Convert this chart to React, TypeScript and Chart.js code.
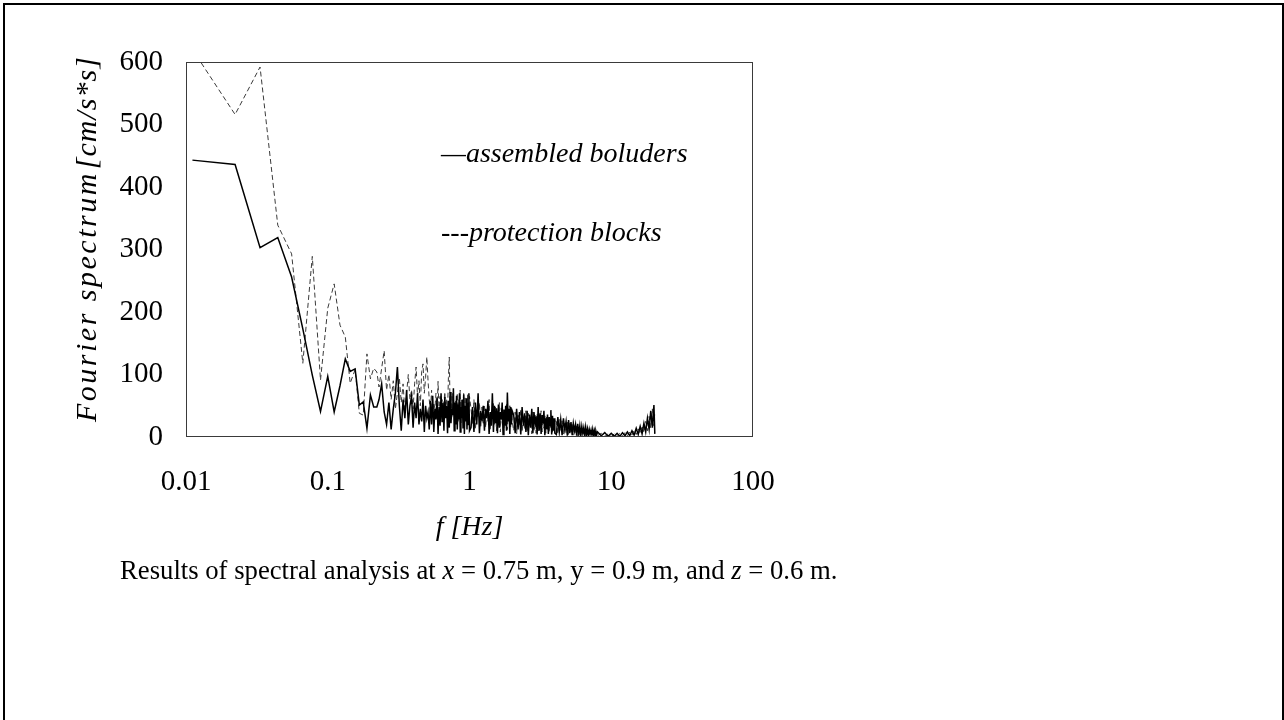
import React, { useEffect, useRef } from "react";
import { Chart, registerables } from "chart.js";

Chart.register(...registerables);

// Frequency grid (Hz)
const FREQ: number[] = [
  0.0111, 0.0222, 0.0333, 0.0444, 0.0556, 0.0667, 0.0778, 0.0889, 0.1, 0.111,
  0.122, 0.133, 0.144, 0.156, 0.167, 0.178, 0.189, 0.2, 0.211, 0.222,
  0.23, 0.24, 0.25, 0.26, 0.27, 0.28, 0.29, 0.3, 0.31, 0.32, 0.33, 0.34, 0.35, 0.36,
  0.37, 0.38, 0.39, 0.4, 0.41, 0.42, 0.43, 0.44, 0.45, 0.46, 0.47, 0.48, 0.49, 0.5,
  0.51, 0.52, 0.53, 0.54, 0.55, 0.56, 0.57, 0.58, 0.59, 0.6,
  0.61, 0.62, 0.63, 0.64, 0.65, 0.66, 0.67, 0.68, 0.69, 0.7,
  0.71, 0.72, 0.73, 0.74, 0.75, 0.76, 0.77, 0.78, 0.79, 0.8,
  0.81, 0.82, 0.83, 0.84, 0.85, 0.86, 0.87, 0.88, 0.89, 0.9,
  0.91, 0.92, 0.93, 0.94, 0.95, 0.96, 0.97, 0.98, 0.99, 1.0,
  1.025, 1.05, 1.075, 1.1, 1.125, 1.15, 1.175, 1.2, 1.225, 1.25,
  1.275, 1.3, 1.325, 1.35, 1.375, 1.4, 1.425, 1.45, 1.475, 1.5,
  1.525, 1.55, 1.575, 1.6, 1.625, 1.65, 1.675, 1.7, 1.725, 1.75,
  1.775, 1.8, 1.825, 1.85, 1.875, 1.9, 1.925, 1.95, 1.975, 2.0,
  2.05, 2.1, 2.15, 2.2, 2.25, 2.3, 2.35, 2.4, 2.45, 2.5,
  2.55, 2.6, 2.65, 2.7, 2.75, 2.8, 2.85, 2.9, 2.95, 3.0,
  3.05, 3.1, 3.15, 3.2, 3.25, 3.3, 3.35, 3.4, 3.45, 3.5,
  3.55, 3.6, 3.65, 3.7, 3.75, 3.8, 3.85, 3.9, 3.95, 4.0,
  4.1, 4.2, 4.3, 4.4, 4.5, 4.6, 4.7, 4.8, 4.9, 5.0,
  5.1, 5.2, 5.3, 5.4, 5.5, 5.6, 5.7, 5.8, 5.9, 6.0,
  6.1, 6.2, 6.3, 6.4, 6.5, 6.6, 6.7, 6.8, 6.9, 7.0,
  7.1, 7.2, 7.3, 7.4, 7.5, 7.6, 7.7, 7.8, 7.9, 8.0,
  8.5, 9.0, 9.5, 10.0, 10.5, 11.0, 11.5, 12.0, 12.5, 13.0, 13.5, 14.0, 14.5, 15.0,
  15.5, 16.0, 16.5, 17.0, 17.5, 18.0, 18.5, 19.0, 19.5, 20.0, 20.3,
];

// Fourier spectrum, assembled boulders (solid)
const ASSEMBLED: number[] = [
  443, 436, 303, 319, 256, 173, 99, 41, 97, 40, 82, 125, 105, 109, 51, 56, 14, 67, 48, 48,
  60, 85, 40, 20, 55, 12, 45, 70, 112, 50, 10, 60, 30, 75, 20, 50, 65, 15, 55, 30, 70, 20,
  45, 25, 60, 8, 50, 30,
  40, 12, 58, 20, 66, 8, 45, 28, 62, 5,
  48, 18, 70, 25, 55, 10, 64, 30, 50, 6,
  58, 15, 72, 22, 45, 35, 78, 10, 55, 20,
  66, 12, 52, 28, 70, 8, 48, 30, 60, 15,
  68, 5, 50, 25, 62, 12, 55, 20, 70, 10,
  15, 48, 8, 55, 20, 70, 6, 42, 25, 50,
  10, 45, 30, 58, 5, 40, 18, 70, 8, 50,
  22, 46, 6, 52, 15, 40, 28, 55, 4, 44,
  18, 50, 10, 71, 25, 45, 5, 48, 20, 42,
  35, 6, 45, 12, 40, 4, 48, 18, 38, 8,
  42, 3, 36, 15, 45, 6, 40, 20, 33, 4,
  48, 10, 38, 5, 35, 22, 42, 3, 30, 12,
  36, 5, 32, 18, 43, 4, 34, 10, 30, 6,
  4, 32, 8, 28, 3, 30, 12, 25, 2, 27,
  6, 24, 3, 22, 10, 20, 2, 21, 5, 18,
  2, 17, 6, 15, 2, 16, 4, 13, 2, 12,
  5, 11, 2, 12, 3, 10, 2, 9, 4, 8,
  2, 7, 1, 6, 1, 6, 1, 7, 2, 8, 2, 10, 3, 14, 4, 17, 5, 22, 8, 30, 12, 42, 15, 51, 5,
];

// Fourier spectrum, protection blocks (dashed)
const PROTECTION: number[] = [
  620, 516, 592, 339, 293, 118, 289, 91, 206, 245, 179, 160, 86, 108, 38, 35, 133, 93, 110, 104,
  80, 110, 138, 75, 100, 60, 90, 45, 70, 95, 55, 85, 40, 70, 100, 60, 75, 45, 85, 112, 65, 90,
  50, 105, 117, 70, 95, 128,
  90, 60, 40, 75, 30, 55, 45, 70, 35, 89,
  40, 65, 30, 60, 25, 55, 72, 35, 60, 40,
  95, 128, 45, 65, 30, 70, 40, 55, 30, 60,
  40, 70, 25, 60, 45, 75, 20, 60, 35, 50,
  72, 30, 65, 25, 55, 40, 68, 30, 45, 65,
  45, 20, 60, 12, 40, 30, 55, 15, 48, 22,
  52, 15, 44, 25, 60, 12, 38, 28, 55, 18,
  48, 10, 42, 30, 55, 8, 46, 22, 40, 15,
  45, 20, 52, 12, 40, 28, 50, 15, 38, 25,
  10, 40, 5, 35, 18, 45, 8, 30, 12, 42,
  8, 38, 20, 30, 5, 40, 12, 35, 6, 38,
  10, 32, 20, 42, 8, 30, 14, 36, 6, 32,
  12, 30, 8, 28, 15, 32, 6, 28, 12, 26,
  25, 5, 28, 10, 26, 4, 22, 6, 24, 3,
  22, 8, 20, 3, 18, 6, 19, 2, 16, 4,
  15, 3, 14, 5, 13, 2, 12, 4, 11, 2,
  10, 3, 9, 2, 10, 3, 8, 2, 8, 2,
  6, 1, 5, 1, 5, 1, 6, 2, 7, 2, 8, 3, 11, 4, 13, 5, 18, 7, 25, 10, 33, 14, 45, 18, 40,
];

const X_TICKS: number[] = [0.01, 0.1, 1, 10, 100];
const Y_TICKS: number[] = [0, 100, 200, 300, 400, 500, 600];
const LEGEND_LABELS: string[] = ["\u2014assembled boluders", "---protection blocks"];
const X_TITLE = "f [Hz]";
const Y_TITLE_MAIN = "Fourier spectrum";
const Y_TITLE_UNIT = "[cm/s*s]";

const SERIF = '"Liberation Serif", "Times New Roman", serif';

const overlayPlugin = {
  id: "overlay",
  afterDraw(chart: any) {
    const { ctx, chartArea: a } = chart;
    ctx.save();
    // plot frame
    ctx.strokeStyle = "#3a3a3a";
    ctx.lineWidth = 1;
    ctx.strokeRect(a.left + 0.5, a.top + 0.5, a.right - a.left - 1, a.bottom - a.top - 1);

    ctx.fillStyle = "#000";
    ctx.font = `italic 28px ${SERIF}`;
    ctx.textBaseline = "middle";
    ctx.textAlign = "left";
    ctx.fillText(LEGEND_LABELS[0], a.left + 255, a.top + 93);
    ctx.fillText(LEGEND_LABELS[1], a.left + 255, a.top + 172);

    // x title
    ctx.textAlign = "center";
    ctx.fillText(X_TITLE, (a.left + a.right) / 2, a.bottom + 91);

    // y title (rotated, bottom to top)
    ctx.translate(88, 422);
    ctx.rotate(-Math.PI / 2);
    ctx.textAlign = "left";
    ctx.font = `italic 30px ${SERIF}`;
    (ctx as any).letterSpacing = "2.5px";
    ctx.fillText(Y_TITLE_MAIN, 0, 0);
    const w = ctx.measureText(Y_TITLE_MAIN).width;
    (ctx as any).letterSpacing = "1px";
    ctx.fillText(Y_TITLE_UNIT, w + 2, 0);
    ctx.restore();
  },
};

export default function App() {
  const canvasRef = useRef<HTMLCanvasElement | null>(null);

  useEffect(() => {
    const canvas = canvasRef.current;
    if (!canvas) return;
    const chart = new Chart(canvas, {
      type: "line",
      data: {
        datasets: [
          {
            label: "assembled boluders",
            data: FREQ.map((f, i) => ({ x: f, y: ASSEMBLED[i] })),
            borderColor: "#000000",
            borderWidth: 1.5,
            pointRadius: 0,
            tension: 0,
            fill: false,
          },
          {
            label: "protection blocks",
            data: FREQ.map((f, i) => ({ x: f, y: PROTECTION[i] })),
            borderColor: "#3a3a3a",
            borderWidth: 1,
            borderDash: [5, 3],
            pointRadius: 0,
            tension: 0,
            fill: false,
          },
        ],
      },
      options: {
        responsive: false,
        animation: false,
        devicePixelRatio: 1,
        layout: { padding: { left: 0, right: 531, top: 62, bottom: 0 } },
        plugins: {
          legend: { display: false },
          tooltip: { enabled: false },
          title: { display: false },
        },
        scales: {
          x: {
            type: "logarithmic",
            min: 0.01,
            max: 100,
            grid: { display: false, drawTicks: false },
            border: { display: false },
            afterBuildTicks: (scale: any) => {
              scale.ticks = X_TICKS.map((v) => ({ value: v }));
            },
            afterFit: (scale: any) => {
              scale.height = 283;
            },
            ticks: {
              padding: 28,
              color: "#000",
              font: { family: SERIF, size: 29 },
              maxRotation: 0,
              autoSkip: false,
              callback: (v: any) => String(v),
            },
          },
          y: {
            type: "linear",
            min: 0,
            max: 600,
            grid: { display: false, drawTicks: false },
            border: { display: false },
            afterBuildTicks: (scale: any) => {
              scale.ticks = Y_TICKS.map((v) => ({ value: v }));
            },
            afterFit: (scale: any) => {
              scale.width = 186;
            },
            ticks: {
              padding: 23,
              color: "#000",
              font: { family: SERIF, size: 29 },
              callback: (v: any) => String(v),
            },
          },
        },
      },
      plugins: [overlayPlugin],
    });
    return () => chart.destroy();
  }, []);

  return (
    <div
      style={{
        position: "fixed",
        left: 0,
        top: 0,
        width: 1284,
        height: 720,
        background: "#fff",
        overflow: "hidden",
      }}
    >
      <canvas
        ref={canvasRef}
        width={1284}
        height={720}
        style={{ position: "absolute", left: 0, top: 0, width: 1284, height: 720 }}
      />
      <div
        style={{
          position: "absolute",
          left: 3,
          top: 3,
          width: 1281,
          height: 760,
          boxSizing: "border-box",
          borderLeft: "2px solid #000",
          borderTop: "2px solid #000",
          borderRight: "2px solid #000",
          pointerEvents: "none",
        }}
      />
      <div
        style={{
          position: "absolute",
          left: 120,
          top: 556,
          fontFamily: SERIF,
          fontSize: 26.7,
          lineHeight: "28px",
          whiteSpace: "nowrap",
          color: "#000",
        }}
      >
        Results of spectral analysis at <i>x</i> = 0.75 m, y = 0.9 m, and <i>z</i> = 0.6 m.
      </div>
    </div>
  );
}
